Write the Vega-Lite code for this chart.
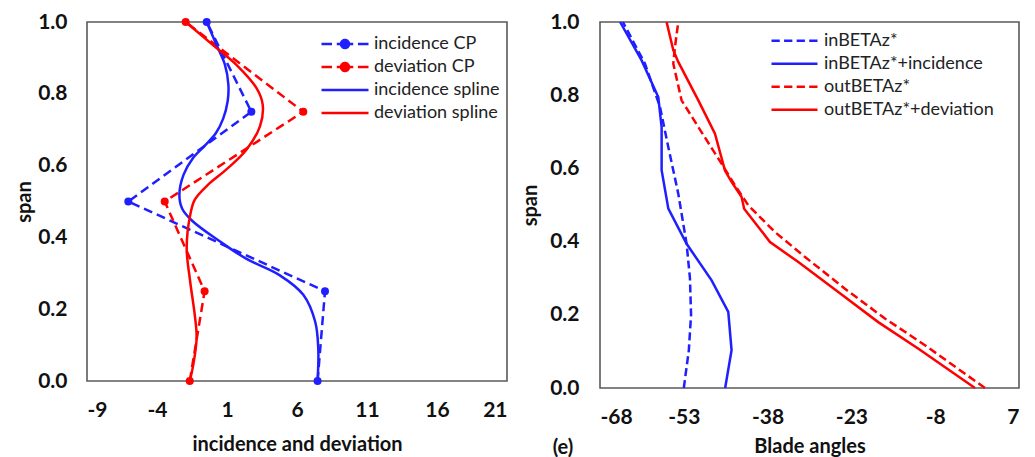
{
  "$schema": "https://vega.github.io/schema/vega-lite/v6.json",
  "background": "white",
  "padding": {"left": 13, "top": 10, "right": 5, "bottom": 0},
  "config": {
    "font": "Lato",
    "view": {"stroke": "#5a5a5a", "strokeWidth": 1.6},
    "axis": {"domain": false, "ticks": false, "grid": false, "labelFont": "Lato", "labelFontWeight": "bold", "labelFontSize": 21, "labelColor": "#111111", "titleFont": "Lato", "titleFontWeight": "bold", "titleFontSize": 20, "titleColor": "#111111", "labelOverlap": false, "labelExpr": "replace(datum.label, '\u2212', '-')"}
  },
  "datasets": {
    "left": [
      {"series": "incidence CP", "span": 1.0, "value": -0.45},
      {"series": "incidence CP", "span": 0.75, "value": 2.74},
      {"series": "incidence CP", "span": 0.5, "value": -6.05},
      {"series": "incidence CP", "span": 0.25, "value": 8.0},
      {"series": "incidence CP", "span": 0.0, "value": 7.47},
      {"series": "deviation CP", "span": 1.0, "value": -1.95},
      {"series": "deviation CP", "span": 0.75, "value": 6.45},
      {"series": "deviation CP", "span": 0.5, "value": -3.45},
      {"series": "deviation CP", "span": 0.25, "value": -0.6},
      {"series": "deviation CP", "span": 0.0, "value": -1.66},
      {"series": "incidence spline", "span": 1.0, "value": -0.45},
      {"series": "incidence spline", "span": 0.935, "value": 0.26},
      {"series": "incidence spline", "span": 0.88, "value": 0.86},
      {"series": "incidence spline", "span": 0.825, "value": 1.1},
      {"series": "incidence spline", "span": 0.78, "value": 1.05},
      {"series": "incidence spline", "span": 0.73, "value": 0.72},
      {"series": "incidence spline", "span": 0.69, "value": 0.2},
      {"series": "incidence spline", "span": 0.655, "value": -0.6},
      {"series": "incidence spline", "span": 0.62, "value": -1.45},
      {"series": "incidence spline", "span": 0.575, "value": -2.1},
      {"series": "incidence spline", "span": 0.52, "value": -2.4},
      {"series": "incidence spline", "span": 0.48, "value": -2.2},
      {"series": "incidence spline", "span": 0.445, "value": -1.45},
      {"series": "incidence spline", "span": 0.39, "value": 0.45},
      {"series": "incidence spline", "span": 0.34, "value": 2.4},
      {"series": "incidence spline", "span": 0.295, "value": 4.75},
      {"series": "incidence spline", "span": 0.24, "value": 6.45},
      {"series": "incidence spline", "span": 0.165, "value": 7.3},
      {"series": "incidence spline", "span": 0.09, "value": 7.52},
      {"series": "incidence spline", "span": 0.0, "value": 7.47},
      {"series": "deviation spline", "span": 1.0, "value": -1.95},
      {"series": "deviation spline", "span": 0.935, "value": 0.02},
      {"series": "deviation spline", "span": 0.88, "value": 1.69},
      {"series": "deviation spline", "span": 0.815, "value": 3.12},
      {"series": "deviation spline", "span": 0.77, "value": 3.55},
      {"series": "deviation spline", "span": 0.71, "value": 3.36},
      {"series": "deviation spline", "span": 0.645, "value": 2.4},
      {"series": "deviation spline", "span": 0.59, "value": 0.98},
      {"series": "deviation spline", "span": 0.545, "value": -0.4},
      {"series": "deviation spline", "span": 0.505, "value": -1.3},
      {"series": "deviation spline", "span": 0.46, "value": -1.64},
      {"series": "deviation spline", "span": 0.37, "value": -1.88},
      {"series": "deviation spline", "span": 0.28, "value": -1.64},
      {"series": "deviation spline", "span": 0.18, "value": -1.29},
      {"series": "deviation spline", "span": 0.12, "value": -1.17},
      {"series": "deviation spline", "span": 0.045, "value": -1.41},
      {"series": "deviation spline", "span": 0.0, "value": -1.66}
    ],
    "right": [
      {"series": "inBETAz*", "span": 1.0, "value": -63.9},
      {"series": "inBETAz*", "span": 0.886, "value": -59.95},
      {"series": "inBETAz*", "span": 0.768, "value": -57.26},
      {"series": "inBETAz*", "span": 0.658, "value": -55.77},
      {"series": "inBETAz*", "span": 0.531, "value": -53.99},
      {"series": "inBETAz*", "span": 0.394, "value": -52.5},
      {"series": "inBETAz*", "span": 0.3, "value": -51.9},
      {"series": "inBETAz*", "span": 0.2, "value": -51.7},
      {"series": "inBETAz*", "span": 0.103, "value": -52.1},
      {"series": "inBETAz*", "span": 0.0, "value": -53.0},
      {"series": "inBETAz*+incidence", "span": 1.0, "value": -64.4},
      {"series": "inBETAz*+incidence", "span": 0.895, "value": -60.55},
      {"series": "inBETAz*+incidence", "span": 0.795, "value": -57.57},
      {"series": "inBETAz*+incidence", "span": 0.713, "value": -56.97},
      {"series": "inBETAz*+incidence", "span": 0.595, "value": -56.97},
      {"series": "inBETAz*+incidence", "span": 0.49, "value": -55.77},
      {"series": "inBETAz*+incidence", "span": 0.394, "value": -52.5},
      {"series": "inBETAz*+incidence", "span": 0.294, "value": -48.02},
      {"series": "inBETAz*+incidence", "span": 0.208, "value": -45.04},
      {"series": "inBETAz*+incidence", "span": 0.103, "value": -44.45},
      {"series": "inBETAz*+incidence", "span": 0.0, "value": -45.6},
      {"series": "outBETAz*", "span": 1.0, "value": -53.99},
      {"series": "outBETAz*", "span": 0.932, "value": -54.58},
      {"series": "outBETAz*", "span": 0.886, "value": -54.88},
      {"series": "outBETAz*", "span": 0.786, "value": -53.4},
      {"series": "outBETAz*", "span": 0.713, "value": -50.4},
      {"series": "outBETAz*", "span": 0.613, "value": -46.24},
      {"series": "outBETAz*", "span": 0.554, "value": -43.84},
      {"series": "outBETAz*", "span": 0.499, "value": -41.45},
      {"series": "outBETAz*", "span": 0.426, "value": -36.68},
      {"series": "outBETAz*", "span": 0.358, "value": -31.3},
      {"series": "outBETAz*", "span": 0.271, "value": -24.15},
      {"series": "outBETAz*", "span": 0.19, "value": -17.0},
      {"series": "outBETAz*", "span": 0.117, "value": -9.83},
      {"series": "outBETAz*", "span": 0.0, "value": 0.9},
      {"series": "outBETAz*+deviation", "span": 1.0, "value": -56.08},
      {"series": "outBETAz*+deviation", "span": 0.923, "value": -54.88},
      {"series": "outBETAz*+deviation", "span": 0.891, "value": -53.99},
      {"series": "outBETAz*+deviation", "span": 0.786, "value": -50.4},
      {"series": "outBETAz*+deviation", "span": 0.695, "value": -47.42},
      {"series": "outBETAz*+deviation", "span": 0.594, "value": -45.63},
      {"series": "outBETAz*+deviation", "span": 0.563, "value": -44.45},
      {"series": "outBETAz*+deviation", "span": 0.522, "value": -42.65},
      {"series": "outBETAz*+deviation", "span": 0.49, "value": -42.2},
      {"series": "outBETAz*+deviation", "span": 0.399, "value": -37.57},
      {"series": "outBETAz*+deviation", "span": 0.344, "value": -32.5},
      {"series": "outBETAz*+deviation", "span": 0.262, "value": -25.35},
      {"series": "outBETAz*+deviation", "span": 0.18, "value": -18.2},
      {"series": "outBETAz*+deviation", "span": 0.107, "value": -11.0},
      {"series": "outBETAz*+deviation", "span": 0.0, "value": -0.88}
    ]
  },
  "spacing": 11,
  "resolve": {"scale": {"color": "independent", "x": "independent", "y": "independent"}, "legend": {"color": "independent"}},
  "hconcat": [
    {
      "width": 420,
      "height": 359,
      "data": {"name": "left"},
      "encoding": {
        "y": {"field": "span", "type": "quantitative", "scale": {"domain": [0, 1], "nice": false}, "axis": {"title": "span", "values": [0, 0.2, 0.4, 0.6, 0.8, 1], "format": ".1f", "labelPadding": 20, "titlePadding": 3}},
        "x": {"field": "value", "type": "quantitative", "scale": {"domain": [-9, 21], "nice": false, "zero": false}, "axis": {"title": "incidence and deviation", "values": [-9, -4, 1, 6, 11, 16, 21], "labelPadding": 18, "titlePadding": 14}},
        "color": {
          "field": "series", "type": "nominal",
          "scale": {"domain": ["incidence CP", "deviation CP", "incidence spline", "deviation spline"], "range": ["#1f1fff", "#ff0000", "#1f1fff", "#ff0000"]},
          "legend": {
            "title": null, "orient": "none", "legendX": 233, "legendY": 10.5, "clipHeight": 23, "rowPadding": 0,
            "symbolSize": 2209, "symbolStrokeWidth": 2.5, "symbolType": "stroke", "labelOffset": 4, "labelLimit": 300,
            "labelFont": "Lato", "labelFontSize": 18, "labelColor": "#222222",
            "encode": {"symbols": {"update": {
              "shape": {"signal": "indexof(datum.value,'CP')>0 ? 'M-1,0L-0.55,0M-0.35,0L0.35,0M0.55,0L1,0M0.17,0A0.17,0.17,0,1,1,-0.17,0A0.17,0.17,0,1,1,0.17,0Z' : 'M-1,0L1,0'"},
              "stroke": {"signal": "slice(datum.value,0,2)==='in' ? '#1f1fff' : '#ff0000'"},
              "fill": {"signal": "slice(datum.value,0,2)==='in' ? '#1f1fff' : '#ff0000'"},
              "strokeDash": {"value": [1, 0]},
              "opacity": {"value": 1}
            }}}
          }
        },
        "order": {"field": "span", "type": "quantitative"}
      },
      "layer": [
        {"transform": [{"filter": "indexof(datum.series,'CP') > 0"}], "mark": {"type": "line", "strokeDash": [9, 5], "strokeWidth": 2.5}},
        {"transform": [{"filter": "indexof(datum.series,'spline') > 0"}], "mark": {"type": "line", "interpolate": "catmull-rom", "strokeWidth": 2.5}},
        {"transform": [{"filter": "indexof(datum.series,'CP') > 0"}], "mark": {"type": "point", "filled": true, "size": 64, "opacity": 1, "shape": "circle"}}
      ]
    },
    {
      "width": 419,
      "height": 366,
      "data": {"name": "right"},
      "title": {"text": "(e)", "orient": "bottom", "anchor": "start", "offset": -18, "dx": 32, "font": "Lato", "fontSize": 20, "fontWeight": "bold", "color": "#111111"},
      "encoding": {
        "y": {"field": "span", "type": "quantitative", "scale": {"domain": [0, 1], "nice": false}, "axis": {"title": "span", "values": [0, 0.2, 0.4, 0.6, 0.8, 1], "format": ".1f", "labelPadding": 21, "titlePadding": 9}},
        "x": {"field": "value", "type": "quantitative", "scale": {"domain": [-68, 7], "nice": false, "zero": false}, "axis": {"title": "Blade angles", "values": [-68, -53, -38, -23, -8, 7], "labelPadding": 18, "titlePadding": 9}},
        "color": {
          "field": "series", "type": "nominal",
          "scale": {"domain": ["inBETAz*", "inBETAz*+incidence", "outBETAz*", "outBETAz*+deviation"], "range": ["#1f1fff", "#1f1fff", "#ff0000", "#ff0000"]},
          "legend": {
            "title": null, "orient": "none", "legendX": 170, "legendY": 7.5, "clipHeight": 22.7, "rowPadding": 0,
            "symbolSize": 2116, "symbolStrokeWidth": 2.5, "symbolType": "stroke", "labelOffset": 5, "labelLimit": 300,
            "labelFont": "Lato", "labelFontSize": 18, "labelColor": "#222222",
            "encode": {"symbols": {"update": {
              "shape": {"signal": "indexof(datum.value,'+')>0 ? 'M-1,0L1,0' : 'M-1,0L-0.64,0M-0.453,0L-0.093,0M0.093,0L0.453,0M0.64,0L1,0'"},
              "stroke": {"signal": "slice(datum.value,0,2)==='in' ? '#1f1fff' : '#ff0000'"},
              "fill": {"value": "transparent"},
              "strokeDash": {"value": [1, 0]},
              "opacity": {"value": 1}
            }}}
          }
        },
        "order": {"field": "span", "type": "quantitative"}
      },
      "layer": [
        {"transform": [{"filter": "indexof(datum.series,'+') < 0"}], "mark": {"type": "line", "strokeDash": [8, 4], "strokeWidth": 2.5}},
        {"transform": [{"filter": "indexof(datum.series,'+') > 0"}], "mark": {"type": "line", "strokeWidth": 2.5}}
      ]
    }
  ]
}
